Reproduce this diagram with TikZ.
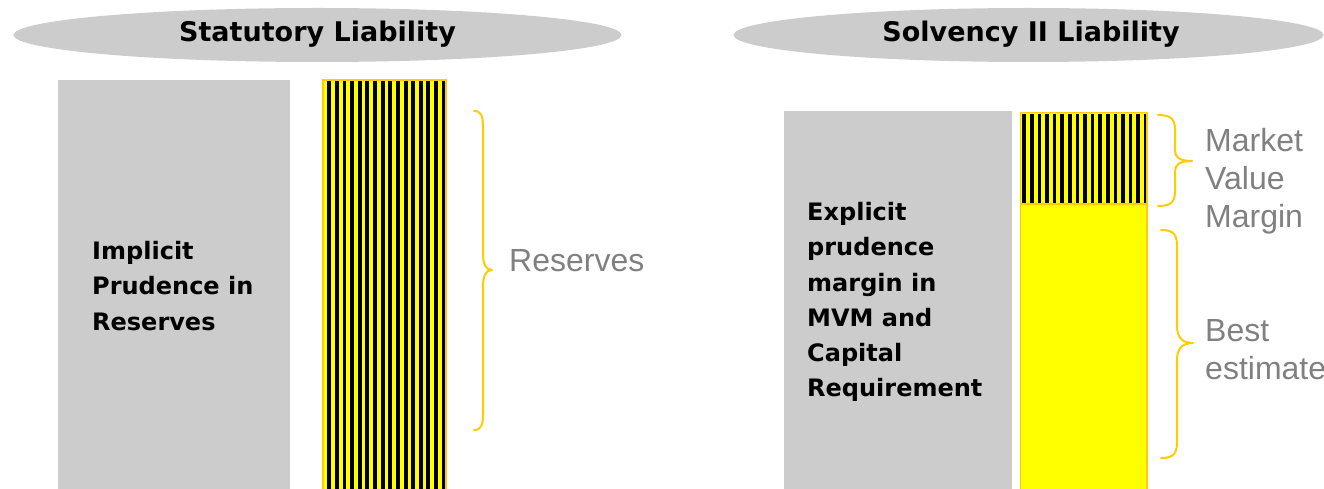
\documentclass[tikz,border=0pt]{standalone}
\usepackage{fontspec}
\usetikzlibrary{shapes.geometric}
\setmainfont{Liberation Sans}
\newfontfamily\headfont{DejaVu Sans}[BoldFont={DejaVu Sans Bold}]
\definecolor{panelgray}{HTML}{CCCCCC}
\definecolor{labelgray}{HTML}{808080}
\definecolor{gold}{HTML}{FFCC00}
\definecolor{brightyellow}{HTML}{FFFF00}
\tikzset{
  banner/.style={ellipse, fill=panelgray, inner sep=0pt},
  bannertext/.style={font=\headfont\bfseries\fontsize{27bp}{32bp}\selectfont, inner sep=0pt, anchor=base},
  panel/.style={fill=panelgray, draw=none},
  % multi-line nodes are placed by the baseline of their last line
  paneltext/.style={font=\headfont\bfseries\fontsize{24bp}{35.2bp}\selectfont, align=left, inner sep=0pt, anchor=base west},
  barframe/.style={draw=gold, line width=1.5bp},
  bracestyle/.style={draw=gold, line width=2bp, line cap=round, line join=round},
  sidelabel/.style={font=\fontsize{32bp}{38bp}\selectfont, text=labelgray, align=left, inner sep=0pt, anchor=base west},
}
% curly brace: end x, top y, tip y, bottom y, spine x, tip x, end curl, tip curl
\newcommand\curlybrace[8]{%
  \draw[bracestyle] (#1,#2)
    .. controls ({#1+0.8*(#5-#1)},#2) and (#5,{#2+0.3*#7}) .. (#5,{#2+#7})
    -- (#5,{#3-#8})
    .. controls (#5,{#3-0.35*#8}) and ({#5+0.3*(#6-#5)},#3) .. (#6,#3)
    .. controls ({#5+0.3*(#6-#5)},#3) and (#5,{#3+0.35*#8}) .. (#5,{#3+#8})
    -- (#5,{#4-#7})
    .. controls (#5,{#4-0.3*#7}) and ({#1+0.8*(#5-#1)},#4) .. (#1,#4);}
\begin{document}
\begin{tikzpicture}[x=1bp,y=-1bp]
\useasboundingbox (0,0) rectangle (1324,489);
\begin{scope}
\clip (0,0) rectangle (1324,489);

% headings
\node[banner, minimum width=608bp, minimum height=54bp] (statbanner) at (317.5,35) {};
\node[bannertext] (stattitle) at (317.5,41.5) {Statutory Liability};
\node[banner, minimum width=590bp, minimum height=54bp] (solvbanner) at (1028.5,35) {};
\node[bannertext] (solvtitle) at (1031,41.5) {Solvency II Liability};

% statutory side
\path[panel] (58,80) rectangle (290,489);
\node[paneltext] (implicit) at (92,330) {Implicit\\Prudence in\\Reserves};
\fill[brightyellow] (323,80) rectangle (446,489);
\foreach \i in {0,...,15}
  \fill[black] ({327.3+\i*7.63},81) rectangle ++(3.9,408);
\draw[barframe] (323,80) rectangle (446,492);
\curlybrace{474}{111}{270}{430}{483}{492}{16}{17}
\node[sidelabel] (reserves) at (509,271.7) {Reserves};

% Solvency II side
\path[panel] (784,111) rectangle (1012,489);
\node[paneltext] (explicit) at (807,396.7) {Explicit\\prudence\\margin in\\MVM and\\Capital\\Requirement};
\fill[brightyellow] (1020.7,112.7) rectangle (1147,492);
\foreach \i in {0,...,16}
  \fill[black] ({1022.3+\i*7.6},114) rectangle ++(3.6,89);
\draw[barframe] (1020.7,112.7) rectangle (1147,204);
\draw[barframe] (1020.7,204) rectangle (1147,492);
\curlybrace{1158}{115}{161}{206}{1175}{1192}{15}{10}
\node[sidelabel] (mvm) at (1205,228) {Market\\Value\\Margin};
\curlybrace{1161}{230}{343}{458}{1177}{1193}{16}{17}
\node[sidelabel] (best) at (1205,379.5) {Best\\estimate};
\end{scope}
\end{tikzpicture}
\end{document}
